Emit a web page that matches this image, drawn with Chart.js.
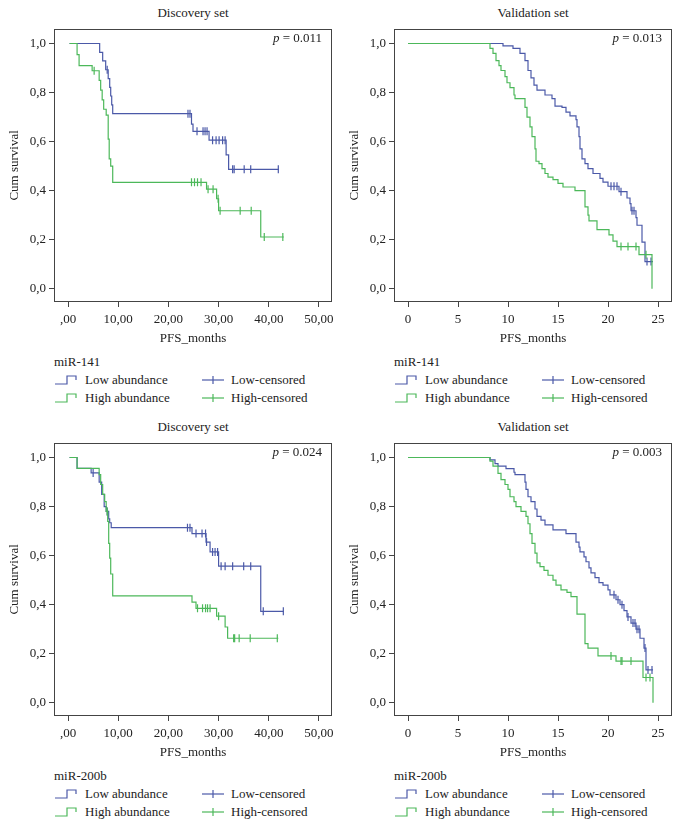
<!DOCTYPE html>
<html>
<head>
    <title>Kaplan-Meier PFS curves</title>
    <script src="https://cdn.jsdelivr.net/npm/chart.js"></script>
    <style>
        body {
            margin: 0;
            background: #fff;
            font-family: "Liberation Serif", "DejaVu Serif", serif;
            color: #222;
        }
        #page {
            position: relative;
            width: 681px;
            height: 828px;
            overflow: hidden;
        }
        canvas {
            position: absolute;
        }
        .title, .pval, .legend {
            position: absolute;
            font-size: 13px;
            line-height: 16px;
            white-space: nowrap;
        }
        .title {
            width: 278px;
            text-align: center;
        }
        .pval {
            text-align: right;
            width: 100px;
        }
        .legend .row {
            position: relative;
            height: 18px;
        }
        .legend .item {
            position: absolute;
            top: 0;
        }
        .legend svg {
            position: absolute;
            top: 2px;
        }
        .legend .lbl {
            position: absolute;
            top: 0;
        }
    </style>
</head>
<body>
<div id="page"></div>

<script>
// colours
const lowColor = '#4b59a8';
const highColor = '#4cb85a';

// axis ticks
const discTicks = [0, 10, 20, 30, 40, 50];
const discTickLabels = [',00', '10,00', '20,00', '30,00', '40,00', '50,00'];
const valTicks = [0, 5, 10, 15, 20, 25];
const valTickLabels = ['0', '5', '10', '15', '20', '25'];
const yTicks = [0, 0.2, 0.4, 0.6, 0.8, 1.0];
const yTickLabels = ['0,0', '0,2', '0,4', '0,6', '0,8', '1,0'];

// --- Discovery set, miR-141 ---
const d141LowT = [0.3, 6.3, 6.9, 7.5, 8.0, 8.3, 8.5, 8.7, 8.9, 24.6, 24.9, 28.1, 31.5, 32.0, 42.0];
const d141LowS = [1.0, 0.964, 0.929, 0.893, 0.857, 0.821, 0.786, 0.75, 0.714, 0.671, 0.642, 0.606, 0.546, 0.487, 0.487];
const d141LowCensT = [7.8, 23.9, 24.3, 25.7, 26.9, 27.3, 27.7, 28.8, 29.5, 30.1, 30.8, 31.3, 32.8, 33.1, 35.1, 36.4, 41.9];
const d141LowCensS = [0.893, 0.714, 0.714, 0.642, 0.642, 0.642, 0.642, 0.606, 0.606, 0.606, 0.606, 0.606, 0.487, 0.487, 0.487, 0.487, 0.487];
const d141HighT = [0.3, 1.8, 2.2, 4.8, 6.2, 6.5, 6.8, 7.1, 7.6, 8.0, 8.2, 8.5, 8.9, 27.6, 29.6, 30.0, 38.4, 43.0];
const d141HighS = [1.0, 0.955, 0.91, 0.889, 0.85, 0.81, 0.77, 0.732, 0.708, 0.61, 0.53, 0.5, 0.434, 0.406, 0.367, 0.318, 0.211, 0.211];
const d141HighCensT = [5.2, 24.6, 25.2, 25.8, 26.5, 27.9, 28.9, 29.9, 30.3, 34.3, 36.5, 39.1, 42.8];
const d141HighCensS = [0.889, 0.434, 0.434, 0.434, 0.434, 0.406, 0.406, 0.367, 0.318, 0.318, 0.318, 0.211, 0.211];

// --- Validation set, miR-141 ---
const v141LowT = [0, 9.5, 10.5, 11.2, 11.7, 12.0, 12.3, 12.6, 12.9, 13.7, 14.4, 14.7, 15.4, 15.8, 16.2, 16.8, 16.9, 17.1, 17.2, 17.4, 17.7, 18.0, 18.5, 19.2, 19.5, 20.0, 21.1, 21.9, 22.2, 22.3, 22.8, 22.9, 23.4, 23.7, 24.5];
const v141LowS = [1.0, 0.99, 0.98, 0.96, 0.93, 0.89, 0.86, 0.83, 0.81, 0.79, 0.775, 0.745, 0.74, 0.72, 0.705, 0.69, 0.66, 0.62, 0.57, 0.53, 0.51, 0.49, 0.47, 0.45, 0.435, 0.418, 0.396, 0.37, 0.347, 0.318, 0.29, 0.259, 0.19, 0.111, 0.111];
const v141LowCensT = [20.3, 20.6, 20.9, 21.3, 22.4, 22.6, 23.9, 24.3];
const v141LowCensS = [0.418, 0.418, 0.418, 0.396, 0.318, 0.318, 0.111, 0.111];
const v141HighT = [0, 8.2, 8.5, 8.8, 9.1, 9.3, 9.7, 9.9, 10.2, 10.6, 10.7, 11.7, 11.9, 12.2, 12.4, 12.7, 12.8, 13.1, 13.4, 13.7, 14.0, 14.5, 15.0, 15.5, 16.7, 17.7, 18.0, 18.1, 18.9, 20.1, 20.5, 20.9, 23.1, 24.4];
const v141HighS = [1.0, 0.98, 0.96, 0.93, 0.91, 0.89, 0.865, 0.84, 0.82, 0.79, 0.775, 0.74, 0.70, 0.66, 0.62, 0.57, 0.52, 0.51, 0.49, 0.47, 0.455, 0.445, 0.43, 0.415, 0.40, 0.334, 0.30, 0.277, 0.241, 0.22, 0.194, 0.172, 0.139, 0.0];
const v141HighCensT = [21.3, 22.0, 22.8, 23.8];
const v141HighCensS = [0.172, 0.172, 0.172, 0.139];

// --- Discovery set, miR-200b ---
const d200LowT = [0.3, 1.8, 4.6, 6.2, 6.7, 7.2, 7.6, 8.1, 8.3, 8.6, 24.7, 27.5, 28.3, 30.0, 38.4, 43.0];
const d200LowS = [1.0, 0.956, 0.937, 0.90, 0.85, 0.80, 0.78, 0.75, 0.734, 0.714, 0.69, 0.655, 0.615, 0.557, 0.373, 0.373];
const d200LowCensT = [5.0, 7.8, 23.8, 24.3, 25.5, 26.7, 27.4, 27.6, 28.8, 29.3, 29.8, 30.5, 31.3, 32.8, 35.0, 36.4, 38.9, 42.9];
const d200LowCensS = [0.937, 0.78, 0.714, 0.714, 0.69, 0.69, 0.69, 0.655, 0.615, 0.615, 0.615, 0.557, 0.557, 0.557, 0.557, 0.557, 0.373, 0.373];
const d200HighT = [0.3, 1.8, 6.2, 6.5, 6.9, 7.3, 7.6, 7.9, 8.1, 8.3, 8.5, 8.9, 24.7, 25.5, 29.6, 31.3, 31.8, 41.9];
const d200HighS = [1.0, 0.956, 0.93, 0.89, 0.85, 0.82, 0.78, 0.74, 0.65, 0.59, 0.525, 0.436, 0.41, 0.385, 0.353, 0.309, 0.263, 0.263];
const d200HighCensT = [7.8, 25.8, 26.8, 27.4, 27.8, 28.3, 30.0, 33.0, 33.2, 34.1, 36.3, 41.7];
const d200HighCensS = [0.78, 0.385, 0.385, 0.385, 0.385, 0.385, 0.353, 0.263, 0.263, 0.263, 0.263, 0.263];

// --- Validation set, miR-200b ---
const v200LowT = [0, 8.2, 8.7, 9.0, 9.8, 10.6, 10.7, 11.7, 11.8, 12.0, 12.3, 12.7, 12.9, 13.3, 13.7, 14.5, 15.8, 16.8, 17.1, 17.2, 17.6, 17.8, 18.1, 18.3, 18.7, 19.1, 19.5, 20.0, 20.2, 20.8, 21.2, 21.6, 21.9, 22.3, 22.8, 23.2, 23.6, 23.8, 24.5];
const v200LowS = [1.0, 0.99, 0.975, 0.965, 0.955, 0.94, 0.93, 0.90, 0.87, 0.84, 0.82, 0.79, 0.76, 0.745, 0.725, 0.705, 0.69, 0.655, 0.635, 0.615, 0.595, 0.575, 0.55, 0.53, 0.51, 0.49, 0.48, 0.46, 0.44, 0.42, 0.40, 0.376, 0.35, 0.325, 0.30, 0.263, 0.223, 0.134, 0.134];
const v200LowCensT = [20.6, 21.0, 21.4, 22.0, 22.5, 22.7, 22.9, 23.1, 23.7, 24.0, 24.4];
const v200LowCensS = [0.44, 0.42, 0.40, 0.35, 0.325, 0.325, 0.30, 0.30, 0.223, 0.134, 0.134];
const v200HighT = [0, 8.2, 8.5, 9.0, 9.3, 9.7, 10.0, 10.2, 10.6, 10.8, 11.3, 11.8, 12.0, 12.2, 12.4, 12.7, 12.9, 13.2, 13.6, 14.0, 14.5, 14.8, 15.3, 15.9, 16.3, 16.9, 17.7, 18.0, 19.0, 20.8, 23.5, 24.5];
const v200HighS = [1.0, 0.985, 0.965, 0.935, 0.91, 0.89, 0.87, 0.84, 0.82, 0.80, 0.78, 0.76, 0.73, 0.69, 0.65, 0.61, 0.57, 0.555, 0.54, 0.52, 0.50, 0.48, 0.46, 0.45, 0.433, 0.361, 0.241, 0.223, 0.191, 0.17, 0.103, 0.0];
const v200HighCensT = [20.3, 21.3, 21.4, 22.3, 23.8, 24.2];
const v200HighCensS = [0.191, 0.17, 0.17, 0.17, 0.103, 0.103];

const panels = [
    { left: 0, top: 0, title: 'Discovery set', p: '0.011', gene: 'miR-141', ticks: discTicks, tickLabels: discTickLabels, xmin: -2.8, xmax: 52.6,
      low: [d141LowT, d141LowS, d141LowCensT, d141LowCensS], high: [d141HighT, d141HighS, d141HighCensT, d141HighCensS] },
    { left: 340, top: 0, title: 'Validation set', p: '0.013', gene: 'miR-141', ticks: valTicks, tickLabels: valTickLabels, xmin: -1.4, xmax: 26.4,
      low: [v141LowT, v141LowS, v141LowCensT, v141LowCensS], high: [v141HighT, v141HighS, v141HighCensT, v141HighCensS] },
    { left: 0, top: 414, title: 'Discovery set', p: '0.024', gene: 'miR-200b', ticks: discTicks, tickLabels: discTickLabels, xmin: -2.8, xmax: 52.6,
      low: [d200LowT, d200LowS, d200LowCensT, d200LowCensS], high: [d200HighT, d200HighS, d200HighCensT, d200HighCensS] },
    { left: 340, top: 414, title: 'Validation set', p: '0.003', gene: 'miR-200b', ticks: valTicks, tickLabels: valTickLabels, xmin: -1.4, xmax: 26.4,
      low: [v200LowT, v200LowS, v200LowCensT, v200LowCensS], high: [v200HighT, v200HighS, v200HighCensT, v200HighCensS] }
];

const serif = '"Liberation Serif", "DejaVu Serif", serif';
const page = document.getElementById('page');

// frame round the plot area
const framePlugin = {
    id: 'frame',
    afterDraw(chart) {
        const a = chart.chartArea, ctx = chart.ctx;
        ctx.save();
        ctx.strokeStyle = '#444';
        ctx.lineWidth = 1;
        ctx.strokeRect(Math.round(a.left) + 0.5, Math.round(a.top) + 0.5, Math.round(a.right - a.left) - 1, Math.round(a.bottom - a.top) - 1);
        ctx.restore();
    }
};

function pts(ts, ss) {
    return ts.map((t, i) => ({ x: t, y: ss[i] }));
}

function stepIcon(color) {
    return '<svg width="24" height="12"><polyline points="1,10 13,10 13,2 22,2 22,6" fill="none" stroke="' + color + '" stroke-width="1.2"/></svg>';
}
function censIcon(color) {
    return '<svg width="22" height="12"><line x1="0" y1="6" x2="22" y2="6" stroke="' + color + '" stroke-width="1.2"/><line x1="11" y1="2" x2="11" y2="10" stroke="' + color + '" stroke-width="1.2"/></svg>';
}

panels.forEach(p => {
    // title
    const t = document.createElement('div');
    t.className = 'title';
    t.style.left = (p.left + 54) + 'px';
    t.style.top = (p.top + 5) + 'px';
    t.textContent = p.title;
    page.appendChild(t);

    // chart
    const cv = document.createElement('canvas');
    cv.width = p.left ? 341 : 340;
    cv.height = 328;
    cv.style.left = p.left + 'px';
    cv.style.top = (p.top + 18) + 'px';
    page.appendChild(cv);

    // p value
    const pv = document.createElement('div');
    pv.className = 'pval';
    pv.style.left = (p.left + 222) + 'px';
    pv.style.top = (p.top + 30) + 'px';
    pv.innerHTML = '<i>p</i> = ' + p.p;
    page.appendChild(pv);

    // legend
    const lg = document.createElement('div');
    lg.className = 'legend';
    lg.style.left = (p.left + 54) + 'px';
    lg.style.top = (p.top + 354) + 'px';
    lg.innerHTML =
        '<div class="row"><span class="lbl" style="left:0">' + p.gene + '</span></div>' +
        '<div class="row">' +
            '<span class="item" style="left:0">' + stepIcon(lowColor) + '</span><span class="lbl" style="left:31px">Low abundance</span>' +
            '<span class="item" style="left:148px">' + censIcon(lowColor) + '</span><span class="lbl" style="left:177px">Low-censored</span>' +
        '</div>' +
        '<div class="row">' +
            '<span class="item" style="left:0">' + stepIcon(highColor) + '</span><span class="lbl" style="left:31px">High abundance</span>' +
            '<span class="item" style="left:148px">' + censIcon(highColor) + '</span><span class="lbl" style="left:177px">High-censored</span>' +
        '</div>';
    page.appendChild(lg);

    const curve = (d, color) => ({
        data: pts(d[0], d[1]),
        borderColor: color,
        backgroundColor: color,
        borderWidth: 1.2,
        stepped: 'before',
        pointRadius: 0,
        fill: false
    });
    const cens = (d, color) => ({
        data: pts(d[2], d[3]),
        borderColor: color,
        backgroundColor: color,
        showLine: false,
        pointStyle: 'line',
        rotation: 90,
        pointRadius: 4,
        pointBorderWidth: 1.2
    });

    new Chart(cv.getContext('2d'), {
        type: 'line',
        data: {
            datasets: [
                curve(p.high, highColor),
                cens(p.high, highColor),
                curve(p.low, lowColor),
                cens(p.low, lowColor)
            ]
        },
        options: {
            responsive: false,
            animation: false,
            layout: { padding: { top: 5, right: p.left ? 9 : 8, left: 0, bottom: 0 } },
            plugins: { legend: { display: false }, tooltip: { enabled: false } },
            scales: {
                x: {
                    type: 'linear',
                    min: p.xmin,
                    max: p.xmax,
                    afterFit(s) { s.height = 44; },
                    afterBuildTicks(s) { s.ticks = p.ticks.map(v => ({ value: v })); },
                    grid: { drawOnChartArea: false, drawTicks: true, tickLength: 5, color: '#444' },
                    border: { display: false },
                    ticks: {
                        padding: 5,
                        color: '#222',
                        font: { family: serif, size: 13 },
                        callback(v) { return p.tickLabels[p.ticks.indexOf(v)]; }
                    },
                    title: { display: true, text: 'PFS_months', color: '#222', padding: { top: 0, bottom: 0 }, font: { family: serif, size: 13 } }
                },
                y: {
                    type: 'linear',
                    min: -0.054,
                    max: 1.06,
                    afterFit(s) { s.width = 54; },
                    afterBuildTicks(s) { s.ticks = yTicks.map(v => ({ value: v })); },
                    grid: { drawOnChartArea: false, drawTicks: true, tickLength: 5, color: '#444' },
                    border: { display: false },
                    ticks: {
                        padding: 3,
                        color: '#222',
                        font: { family: serif, size: 13 },
                        callback(v) { return yTickLabels[yTicks.indexOf(v)]; }
                    },
                    title: { display: true, text: 'Cum survival', color: '#222', padding: { top: 7, bottom: 0 }, font: { family: serif, size: 13 } }
                }
            }
        },
        plugins: [framePlugin]
    });
});
</script>
</body>
</html>
